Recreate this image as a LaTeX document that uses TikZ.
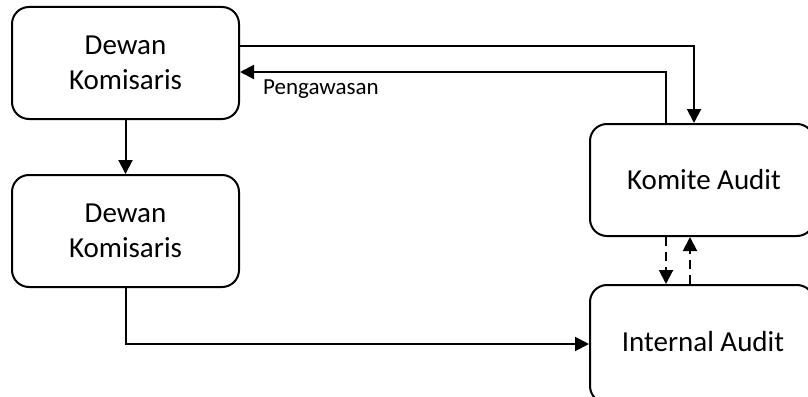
\documentclass[tikz,border=0pt]{standalone}
\usepackage{fontspec}
\setmainfont{Carlito}
\usetikzlibrary{arrows.meta}
\begin{document}
\begin{tikzpicture}[x=1pt,y=-1pt,
  box/.style={draw,line width=2pt,rounded corners=17pt,fill=white,align=center,
    font=\fontsize{29}{35}\selectfont,inner sep=0pt},
  conn/.style={line width=2pt},
  arr/.style={conn,-{Triangle[width=14pt,length=14pt]}},
  dsh/.style={arr,dash pattern=on 9pt off 6pt}]
\useasboundingbox (0,0) rectangle (808,396);
\fill[white] (0,0) rectangle (808,396);
\node[box,minimum width=227pt,minimum height=112pt] (b1) at (125.5,63) {Dewan\\Komisaris};
\node[box,minimum width=227pt,minimum height=112pt] (b2) at (125.5,231) {Dewan\\Komisaris};
\node[box,minimum width=224pt,minimum height=112pt] (ka) at (702,180) {};
\node[font=\fontsize{29}{35}\selectfont] (kat) at ([xshift=2pt]ka.center) {Komite Audit};
\node[box,minimum width=224pt,minimum height=118pt] (ia) at (702,344) {};
\node[font=\fontsize{29}{35}\selectfont] (iat) at ([xshift=1pt,yshift=2pt]ia.center) {Internal Audit};
\draw[arr] ([yshift=17pt]b1.east) -| ([xshift=-8pt]ka.north);
\draw[arr] ([xshift=-36pt]ka.north) |- ([yshift=-9pt]b1.east);
\node[anchor=base west,font=\fontsize{23}{28}\selectfont,inner sep=0pt] (lab) at (263,94) {Pengawasan};
\draw[arr] (b1.south) -- (b2.north);
\draw[arr] (b2.south) |- (ia.west);
\draw[dsh] ([xshift=-36pt]ka.south) -- ([xshift=-36pt]ia.north);
\draw[dsh] ([xshift=-12pt]ia.north) -- ([xshift=-12pt]ka.south);
\end{tikzpicture}
\end{document}
